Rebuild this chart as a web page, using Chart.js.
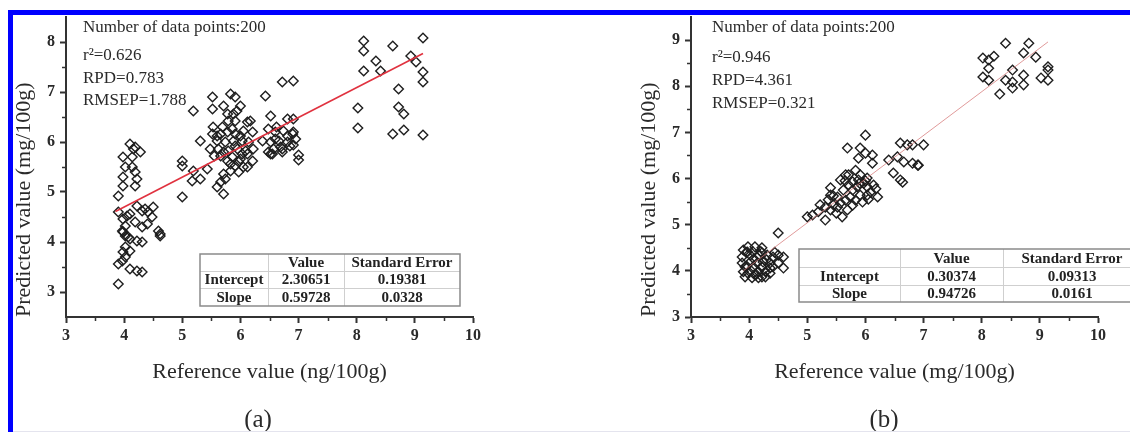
<!DOCTYPE html>
<html>
<head>
<meta charset="utf-8">
<title>Predicted vs reference</title>
<script src="https://cdn.jsdelivr.net/npm/chart.js@4.4.0/dist/chart.umd.min.js"></script>
<style>
  body { margin: 0; background: #fff; }
  #wrap { position: relative; width: 1130px; height: 432px; overflow: hidden; background: #fff; }
  .panel { position: absolute; top: 0; width: 565px; height: 432px; }
  .edge { position: absolute; background: #0000ff; }
</style>
</head>
<body>
<div id="wrap">
  <div class="panel" style="left:0"><canvas id="chartA" width="565" height="432"></canvas></div>
  <div class="panel" style="left:565px"><canvas id="chartB" width="565" height="432"></canvas></div>
  <div class="edge" style="left:8px;top:10px;width:1122px;height:5px"></div>
  <div class="edge" style="left:8px;top:10px;width:5px;height:422px"></div>
  <div style="position:absolute;left:13px;top:431px;width:1117px;height:1px;background:#e4e4ee"></div>
</div>

<script>
// ---------------------------- panel (a) data ----------------------------
const refA = [
  4.10, 4.28, 4.16, 3.98, 4.14, 4.02, 4.14, 4.19, 4.22, 3.98, 3.98, 4.19, 3.90, 3.90, 4.10, 4.22,
  4.31, 4.41, 4.50, 4.48, 3.98, 4.02, 4.19, 4.31, 4.40, 3.97, 4.02, 4.10, 4.22, 4.31, 4.59, 4.62,
  4.02, 3.98, 4.10, 4.02, 3.97, 3.90, 4.10, 4.22, 4.31, 3.90, 4.07, 4.62, 3.98, 4.19, 4.36, 4.05,
  5.00, 5.00, 5.00, 5.19, 5.17, 5.31, 5.43, 5.31, 5.19, 5.52, 5.52, 5.71, 5.83, 5.91, 6.00, 6.43,
  6.72, 6.91, 6.52, 5.60, 5.66, 5.71, 5.71, 6.52,
  5.78, 5.88, 5.79, 5.91, 5.53, 5.69, 6.12, 6.05, 6.21, 5.52, 5.66, 5.78, 5.91, 5.60, 5.74, 5.88,
  6.03, 6.14, 5.48, 5.62, 5.79, 5.95, 6.09, 6.22, 5.66, 5.86, 6.00, 6.21, 5.91, 6.05, 5.83, 6.03,
  5.86, 5.97, 5.83, 6.12, 5.74, 6.17, 5.94, 6.38, 5.55,
  5.60, 6.00, 5.71, 6.12, 5.91, 5.78, 5.97,
  6.48, 6.60, 6.74, 6.90, 6.52, 6.66, 6.81, 6.95, 6.57, 6.72, 6.48, 6.81, 6.81, 6.91, 6.62, 6.91,
  6.60, 6.91, 6.69, 6.55, 6.72, 6.85, 7.00, 7.00,
  8.12, 8.12, 8.62, 9.14, 8.93, 9.02, 8.33, 8.41, 8.12, 9.14, 9.14, 8.72, 8.02, 8.72, 8.81, 8.02,
  8.62, 8.81, 9.14
];
const predA = [
  5.96, 5.80, 5.86, 5.70, 5.70, 5.50, 5.50, 5.40, 5.26, 5.30, 5.12, 5.12, 4.92, 4.60, 4.56, 4.72,
  4.62, 4.60, 4.70, 4.50, 4.46, 4.32, 4.40, 4.30, 4.36, 4.22, 4.12, 4.06, 4.02, 4.00, 4.22, 4.12,
  3.90, 3.80, 3.82, 3.70, 3.62, 3.56, 3.46, 3.42, 3.40, 3.16, 4.10, 4.16, 4.20, 5.90, 4.66, 4.52,
  5.62, 5.52, 4.90, 5.42, 5.22, 5.26, 5.46, 6.02, 6.62, 6.90, 6.66, 6.72, 6.96, 6.90, 6.72, 6.92,
  7.20, 7.22, 6.52, 5.10, 5.20, 4.96, 5.36, 5.76,
  6.56, 6.56, 6.42, 6.42, 6.30, 6.30, 6.40, 6.22, 6.20, 6.16, 6.16, 6.20, 6.16, 6.02, 6.00, 6.02,
  6.02, 6.00, 5.86, 5.86, 5.82, 5.86, 5.82, 5.86, 5.72, 5.70, 5.66, 5.62, 5.52, 5.50, 5.56, 5.76,
  6.26, 5.40, 5.42, 5.50, 5.26, 6.42, 6.62, 6.02, 5.72,
  6.12, 6.12, 5.80, 5.76, 5.92, 5.62, 5.60,
  6.26, 6.20, 6.22, 6.16, 6.00, 6.02, 6.00, 6.06, 5.86, 5.86, 5.80, 6.12, 6.46, 6.46, 6.30, 6.20,
  6.06, 5.94, 5.90, 5.76, 5.80, 5.92, 5.74, 5.64,
  8.02, 7.82, 7.92, 8.08, 7.72, 7.60, 7.62, 7.42, 7.42, 7.40, 7.20, 7.06, 6.68, 6.70, 6.56, 6.28,
  6.16, 6.24, 6.14
];
// fitted line end points
const fitA = [{ x: 3.85, y: 4.61 }, { x: 9.14, y: 7.77 }];
const xTicksA = [3, 4, 5, 6, 7, 8, 9, 10];
const xMinorA = [3.5, 4.5, 5.5, 6.5, 7.5, 8.5, 9.5];
const yTicksA = [3, 4, 5, 6, 7, 8];
const yMinorA = [3.5, 4.5, 5.5, 6.5, 7.5];
const notesA = ['Number of data points:200', 'r\u00B2=0.626', 'RPD=0.783', 'RMSEP=1.788'];
const tableHeadA = ['', 'Value', 'Standard Error'];
const tableRowsA = [['Intercept', '2.30651', '0.19381'], ['Slope', '0.59728', '0.0328']];

// ---------------------------- panel (b) data ----------------------------
const refB = [
  3.90, 3.98, 4.10, 4.22, 3.88, 4.02, 4.16, 4.31, 4.41, 4.50, 4.59, 3.88, 4.02, 4.14, 4.24, 4.36,
  4.50, 4.59, 3.90, 4.02, 4.16, 4.28, 3.93, 4.05, 4.16, 4.28, 4.36, 4.10, 3.95, 4.20, 4.08, 4.30,
  3.96, 4.22, 4.44, 4.12,
  3.97, 4.07, 4.22, 3.93, 4.07, 4.22, 4.36, 3.98, 4.22, 4.41,
  4.50, 5.00, 5.09, 5.19, 5.31, 5.22, 5.36, 5.40, 5.40, 5.52, 5.57, 5.60, 5.69, 5.62, 5.71, 5.71,
  5.83, 5.78, 5.86, 5.91, 5.95, 5.83, 5.74, 6.03, 6.09, 6.14, 6.21, 5.91, 6.03, 5.57, 5.52, 5.31,
  5.45, 5.78, 6.00, 6.18, 5.65, 5.90, 6.05, 5.50,
  5.40, 5.66, 5.78, 5.97, 5.88, 6.03, 5.66, 5.45,
  6.00, 5.69, 5.91, 6.00, 6.12, 5.88, 6.12, 6.60, 6.72, 6.81, 6.55, 6.66, 6.40, 6.48, 6.60, 6.81,
  6.90, 7.00, 6.91, 6.64,
  8.41, 8.81, 8.72, 8.93, 8.02, 8.12, 8.21, 8.12, 8.02, 8.12, 8.53, 8.41, 8.53, 8.72, 8.72, 8.53,
  8.31, 9.14, 9.14, 9.02, 9.14
];
const predB = [
  4.45, 4.52, 4.52, 4.50, 4.30, 4.34, 4.34, 4.34, 4.30, 4.34, 4.30, 4.17, 4.19, 4.17, 4.19, 4.17,
  4.17, 4.06, 3.98, 4.02, 3.98, 3.98, 3.87, 3.85, 3.85, 3.87, 3.95, 3.91, 4.40, 4.42, 4.26, 4.24,
  4.10, 4.08, 4.40, 3.92,
  4.41, 4.41, 4.39, 4.09, 4.09, 4.09, 4.06, 3.95, 3.87, 4.09,
  4.82, 5.17, 5.21, 5.28, 5.10, 5.43, 5.54, 5.80, 5.32, 5.60, 5.47, 5.17, 5.32, 5.75, 5.86, 6.08,
  6.18, 5.93, 5.82, 5.64, 5.49, 5.53, 5.60, 5.82, 5.71, 5.86, 5.60, 6.08, 6.01, 5.97, 5.38, 5.38,
  5.62, 5.42, 5.95, 5.78, 5.95, 5.90, 5.55, 5.25,
  5.64, 5.53, 5.75, 5.90, 5.97, 5.64, 6.08, 5.43,
  6.94, 6.66, 6.66, 6.55, 6.51, 6.44, 6.33, 6.77, 6.73, 6.73, 6.47, 6.36, 6.40, 6.12, 5.97, 6.33,
  6.29, 6.73, 6.29, 5.92,
  8.93, 8.93, 8.72, 8.63, 8.61, 8.57, 8.65, 8.39, 8.20, 8.13, 8.35, 8.13, 8.09, 8.24, 8.03, 7.96,
  7.83, 8.42, 8.35, 8.18, 8.13
];
const fitB = [{ x: 3.90, y: 4.00 }, { x: 9.14, y: 8.96 }];
const xTicksB = [3, 4, 5, 6, 7, 8, 9, 10];
const xMinorB = [3.5, 4.5, 5.5, 6.5, 7.5, 8.5, 9.5];
const yTicksB = [3, 4, 5, 6, 7, 8, 9];
const yMinorB = [3.5, 4.5, 5.5, 6.5, 7.5, 8.5];
const notesB = ['Number of data points:200', 'r\u00B2=0.946', 'RPD=4.361', 'RMSEP=0.321'];
const tableHeadB = ['', 'Value', 'Standard Error'];
const tableRowsB = [['Intercept', '0.30374', '0.09313'], ['Slope', '0.94726', '0.0161']];

const SERIF = '"Liberation Serif", "Times New Roman", serif';
const INK = '#2a2a2a';

// ---------------------------- extra drawing (minor ticks, notes, table, caption) ----------------------------
const extrasPlugin = {
  id: 'extras',
  afterDraw(chart, args, opts) {
    const ctx = chart.ctx;
    const area = chart.chartArea;
    const xs = chart.scales.x, ys = chart.scales.y;
    ctx.save();

    // minor ticks
    ctx.strokeStyle = '#333';
    ctx.lineWidth = 1.5;
    ctx.beginPath();
    opts.xMinor.forEach(v => {
      const px = Math.round(xs.getPixelForValue(v)) + 0.5;
      ctx.moveTo(px, area.bottom);
      ctx.lineTo(px, area.bottom + 4);
    });
    opts.yMinor.forEach(v => {
      const py = Math.round(ys.getPixelForValue(v)) + 0.5;
      ctx.moveTo(area.left, py);
      ctx.lineTo(area.left - 4, py);
    });
    ctx.stroke();

    // statistics text
    ctx.fillStyle = INK;
    ctx.font = '17px ' + SERIF;
    ctx.textAlign = 'left';
    ctx.textBaseline = 'alphabetic';
    opts.notes.forEach((t, i) => {
      ctx.fillText(t, area.left + opts.noteDx, opts.noteY[i]);
    });

    // coefficient table
    const tb = opts.table;
    const rows = [tb.head].concat(tb.rows);
    const totalW = tb.cols.reduce((a, b) => a + b, 0);
    const totalH = tb.heights.reduce((a, b) => a + b, 0);
    ctx.fillStyle = '#fff';
    ctx.fillRect(tb.x, tb.y, totalW, totalH);
    ctx.strokeStyle = '#cfcfcf';
    ctx.lineWidth = 1;
    ctx.beginPath();
    let yy = tb.y;
    for (let r = 0; r < tb.heights.length - 1; r++) {
      yy += tb.heights[r];
      ctx.moveTo(tb.x, yy + 0.5);
      ctx.lineTo(tb.x + totalW, yy + 0.5);
    }
    let xx = tb.x;
    for (let c = 0; c < tb.cols.length - 1; c++) {
      xx += tb.cols[c];
      ctx.moveTo(xx + 0.5, tb.y);
      ctx.lineTo(xx + 0.5, tb.y + totalH);
    }
    ctx.stroke();
    ctx.strokeStyle = '#8a8a8a';
    ctx.lineWidth = 1.5;
    ctx.strokeRect(tb.x, tb.y, totalW, totalH);

    ctx.fillStyle = '#222';
    ctx.font = 'bold 15px ' + SERIF;
    ctx.textAlign = 'center';
    ctx.textBaseline = 'middle';
    yy = tb.y;
    rows.forEach((row, r) => {
      let cx = tb.x;
      row.forEach((cell, c) => {
        ctx.fillText(cell, cx + tb.cols[c] / 2, yy + tb.heights[r] / 2 + 1);
        cx += tb.cols[c];
      });
      yy += tb.heights[r];
    });

    // panel caption
    ctx.fillStyle = INK;
    ctx.font = '25px ' + SERIF;
    ctx.textAlign = 'center';
    ctx.textBaseline = 'alphabetic';
    ctx.fillText(opts.caption, opts.captionX, 427);

    ctx.restore();
  }
};

function makeChart(id, cfg) {
  const points = cfg.ref.map((x, i) => ({ x: x, y: cfg.pred[i] }));
  return new Chart(document.getElementById(id), {
    type: 'scatter',
    data: {
      datasets: [
        {
          type: 'line',
          data: cfg.fit,
          borderColor: cfg.lineColor,
          borderWidth: cfg.lineWidth,
          pointRadius: 0,
          fill: false
        },
        {
          data: points,
          pointStyle: 'rectRot',
          pointRadius: 4.8,
          borderWidth: 1.4,
          borderColor: '#1e1e1e',
          backgroundColor: 'rgba(0,0,0,0)'
        }
      ]
    },
    options: {
      responsive: false,
      animation: false,
      layout: { padding: { left: 0, top: 17, right: cfg.padRight, bottom: 0 } },
      plugins: {
        legend: { display: false },
        tooltip: { enabled: false },
        extras: cfg.extras
      },
      scales: {
        x: {
          type: 'linear',
          min: 3, max: 10,
          afterFit: s => { s.height = 115; },
          afterBuildTicks: s => { s.ticks = cfg.xTicks.map(v => ({ value: v })); },
          border: { display: true, color: '#333', width: 2 },
          grid: { drawOnChartArea: false, drawTicks: true, tickLength: 6, tickWidth: 2, color: '#333' },
          ticks: { color: INK, padding: 3, font: { family: SERIF, size: 16, weight: 'bold' } },
          title: {
            display: true, text: cfg.xTitle, color: INK,
            font: { family: SERIF, size: 22 },
            padding: { top: 0, bottom: 47 }
          }
        },
        y: {
          type: 'linear',
          min: cfg.yMin, max: cfg.yMax,
          afterFit: s => { s.width = cfg.yWidth; },
          afterBuildTicks: s => { s.ticks = cfg.yTicks.map(v => ({ value: v })); },
          border: { display: true, color: '#333', width: 2 },
          grid: { drawOnChartArea: false, drawTicks: true, tickLength: 6, tickWidth: 2, color: '#333' },
          ticks: { color: INK, padding: 5, font: { family: SERIF, size: 16, weight: 'bold' } },
          title: {
            display: true, text: 'Predicted value (mg/100g)', color: INK, align: 'start',
            font: { family: SERIF, size: 22 },
            padding: { top: cfg.yTitlePad, bottom: 0 }
          }
        }
      }
    },
    plugins: [extrasPlugin]
  });
}

makeChart('chartA', {
  ref: refA, pred: predA, fit: fitA,
  lineColor: '#e0323f', lineWidth: 1.6,
  xTicks: xTicksA, yTicks: yTicksA, yMin: 2.5, yMax: 8.5,
  xTitle: 'Reference value (ng/100g)',
  yWidth: 66, yTitlePad: 11, padRight: 92,
  extras: {
    xMinor: xMinorA, yMinor: yMinorA,
    notes: notesA, noteDx: 17, noteY: [32, 60, 83, 105],
    table: { x: 200, y: 254, cols: [68, 76, 116], heights: [17, 17, 18], head: tableHeadA, rows: tableRowsA },
    caption: '(a)', captionX: 258
  }
});

makeChart('chartB', {
  ref: refB, pred: predB, fit: fitB,
  lineColor: 'rgba(214,120,120,0.75)', lineWidth: 1,
  xTicks: xTicksB, yTicks: yTicksB, yMin: 3, yMax: 9.5,
  xTitle: 'Reference value (mg/100g)',
  yWidth: 126, yTitlePad: 71, padRight: 32,
  extras: {
    xMinor: xMinorB, yMinor: yMinorB,
    notes: notesB, noteDx: 21, noteY: [32, 62, 85, 108],
    table: { x: 234, y: 249, cols: [101, 103, 138], heights: [18, 18, 17], head: tableHeadB, rows: tableRowsB },
    caption: '(b)', captionX: 319
  }
});
</script>
</body>
</html>
